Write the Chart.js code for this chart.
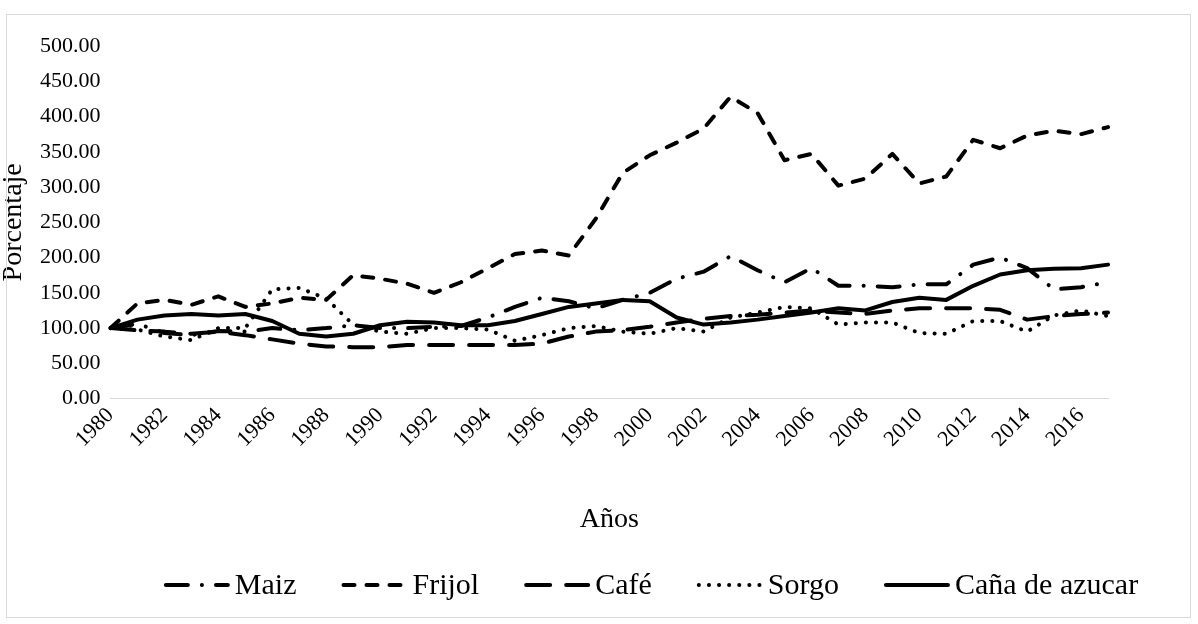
<!DOCTYPE html>
<html>
<head>
<meta charset="utf-8">
<script src="https://cdn.jsdelivr.net/npm/chart.js@4.4.0/dist/chart.umd.min.js"></script>
<style>
  body { margin: 0; background: #fff; }
  #wrap { position: absolute; left: 0; top: 0; width: 1198px; height: 624px; }
  #frame {
    position: absolute; left: 6px; top: 14px;
    width: 1183px; height: 602px;
    border: 1px solid #d9d9d9; pointer-events: none;
  }
</style>
</head>
<body>
<div id="wrap"><canvas id="myChart"></canvas></div>
<div id="frame"></div>
<script>
// Years (x categories)
const years = ['1980','1981','1982','1983','1984','1985','1986','1987','1988','1989',
  '1990','1991','1992','1993','1994','1995','1996','1997','1998','1999',
  '2000','2001','2002','2003','2004','2005','2006','2007','2008','2009',
  '2010','2011','2012','2013','2014','2015','2016','2017'];

// Series values (percent, 1980 = 100)
const maiz = [100, 106, 93, 90, 96, 95, 100, 97, 100, 104,
  100, 100, 102, 103, 115, 130, 143, 138, 128, 140,
  150, 170, 180, 202, 182, 165, 185, 160, 160, 158,
  162, 162, 190, 200, 185, 155, 158, 165];
const frijol = [100, 135, 140, 133, 145, 130, 135, 143, 140, 175,
  170, 163, 150, 165, 185, 205, 210, 203, 255, 320,
  345, 363, 383, 428, 405, 338, 347, 302, 312, 347,
  305, 315, 367, 355, 373, 380, 375, 385];
const cafe = [100, 97, 95, 92, 95, 90, 84, 78, 74, 73,
  73, 76, 76, 76, 76, 76, 78, 88, 95, 97,
  102, 108, 113, 117, 119, 122, 125, 122, 120, 125,
  128, 128, 128, 126, 112, 117, 120, 122];
const sorgo = [100, 98, 88, 83, 100, 100, 155, 157, 142, 105,
  95, 92, 100, 100, 98, 82, 90, 100, 103, 95,
  92, 100, 95, 115, 122, 130, 128, 105, 108, 108,
  93, 92, 110, 110, 95, 118, 125, 117];
const cana = [100, 112, 118, 120, 118, 120, 110, 92, 88, 92,
  104, 109, 108, 104, 104, 110, 120, 130, 135, 140,
  138, 115, 105, 108, 112, 117, 122, 128, 125, 137,
  143, 140, 160, 176, 182, 184, 185, 190];

const seriesNames = ['Maiz', 'Frijol', 'Café', 'Sorgo', 'Caña de azucar'];

// Y axis range
const yMin = 0, yMax = 500, yStep = 50;

const font = "'Liberation Serif', 'Times New Roman', serif";
Chart.defaults.font.family = font;
Chart.defaults.color = '#000';

function lineSet(label, data, dash) {
  return {
    label: label,
    data: data,
    borderColor: '#000',
    backgroundColor: '#000',
    borderWidth: 4,
    borderDash: dash,
    borderCapStyle: 'round',
    borderJoinStyle: 'round',
    pointRadius: 0,
    tension: 0,
    fill: false
  };
}

// legend drawn under the axis title, with each line's own dash
const lineLegend = {
  id: 'lineLegend',
  afterDraw(chart) {
    const c = chart.ctx;
    const sets = chart.data.datasets;
    const cx = 651, cy = 585, sampleW = 66, gapText = 5, gapItem = 45;
    c.save();
    c.font = "30px 'Liberation Serif', 'Times New Roman', serif";
    const widths = sets.map(d => c.measureText(d.label).width);
    let total = widths.reduce((a, b) => a + b, 0) + sets.length * (sampleW + gapText) + (sets.length - 1) * gapItem;
    let x = cx - total / 2;
    sets.forEach((d, i) => {
      c.beginPath();
      c.setLineDash(d.borderDash);
      c.lineWidth = d.borderWidth;
      c.lineCap = 'round';
      c.strokeStyle = d.borderColor;
      c.moveTo(x + 2, cy);
      c.lineTo(x + sampleW - 2, cy);
      c.stroke();
      x += sampleW + gapText;
      c.setLineDash([]);
      c.fillStyle = '#000';
      c.textBaseline = 'middle';
      c.fillText(d.label, x, cy + 1);
      x += widths[i] + gapItem;
    });
    c.restore();
  }
};

let ctx = document.getElementById('myChart');
let myChart = new Chart(ctx, {
  type: 'line',
  data: {
    labels: years,
    datasets: [
      lineSet(seriesNames[0], maiz, [22, 14, 0.1, 14]),
      lineSet(seriesNames[1], frijol, [11, 12]),
      lineSet(seriesNames[2], cafe, [24, 16]),
      lineSet(seriesNames[3], sorgo, [0.1, 10]),
      lineSet(seriesNames[4], cana, [])
    ]
  },
  plugins: [lineLegend],
  options: {
    responsive: true,
    maintainAspectRatio: false,
    animation: false,
    layout: { padding: { left: 0, right: 90, top: 46, bottom: 88 } },
    plugins: {
      tooltip: { enabled: false },
      legend: { display: false }
    },
    scales: {
      x: {
        offset: false,
        grid: { display: false, drawTicks: false },
        border: { display: true, color: '#d9d9d9', width: 1 },
        ticks: {
          autoSkip: false,
          minRotation: 45,
          maxRotation: 45,
          padding: 4,
          font: { size: 22 },
          callback: function (v, i) { return i % 2 === 0 ? years[i] : ''; }
        },
        title: {
          display: true,
          text: 'Años',
          font: { size: 28 },
          padding: { top: 46, bottom: 0 }
        }
      },
      y: {
        min: yMin,
        max: yMax,
        grid: { display: false, drawTicks: false },
        border: { display: false },
        ticks: {
          stepSize: yStep,
          padding: 10,
          font: { size: 22 },
          callback: function (v) { return v.toFixed(2); }
        },
        title: {
          display: true,
          text: 'Porcentaje',
          font: { size: 28, lineHeight: 1 },
          padding: { top: 0, bottom: 2 }
        }
      }
    }
  }
});
</script>
</body>
</html>
